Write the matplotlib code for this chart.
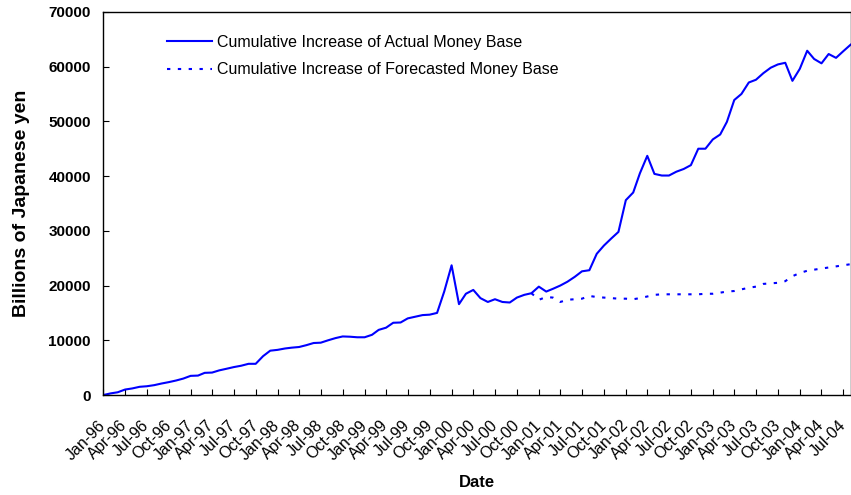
import matplotlib
matplotlib.use("Agg")
import matplotlib.pyplot as plt
import matplotlib.transforms as mtransforms
import numpy as np
import pandas as pd

plt.rcParams['font.family'] = ['Liberation Sans', 'DejaVu Sans']

# monthly data, Jan-96 .. Aug-04 (billions of yen)
months = pd.date_range("1996-01-01", "2004-08-01", freq="MS")

actual = [
    0, 300, 500, 1000, 1200, 1500, 1600, 1800, 2100, 2350, 2650, 3000,
    3500, 3550, 4050, 4100, 4500, 4800, 5100, 5350, 5700, 5700, 7100, 8100,
    8250, 8500, 8650, 8770, 9100, 9500, 9560, 10000, 10400, 10700, 10650, 10550,
    10550, 11000, 11900, 12300, 13200, 13250, 14000, 14300, 14600, 14680, 15000, 18900,
    23700, 16600, 18500, 19200, 17700, 17000, 17500, 17000, 16900, 17800, 18300, 18600,
    19800, 18900, 19400, 20000, 20700, 21600, 22600, 22800, 25800, 27300, 28600, 29800,
    35600, 37000, 40500, 43700, 40400, 40100, 40100, 40800, 41300, 42000, 45000, 45000,
    46700, 47600, 49900, 53900, 55000, 57100, 57600, 58800, 59800, 60400, 60700, 57400,
    59600, 62900, 61400, 60600, 62300, 61600, 62800, 64000,
]

# forecast branches off the actual series in Dec-00
forecast_start = 59
forecast = [
    18600, 17400, 17900, 17800, 17000, 17400, 17500, 17600, 18100, 17900,
    17800, 17700, 17600, 17600, 17500, 17700, 18000, 18300, 18400, 18400,
    18400, 18400, 18400, 18400, 18500, 18500, 18700, 18900, 19000, 19300,
    19600, 19800, 20300, 20400, 20500, 20800, 21700, 22300, 22700, 22900,
    23100, 23300, 23500, 23700, 23900,
]

tick_dates = months[::3]
tick_labels = [d.strftime("%b-%y") for d in tick_dates]
y_ticks = [0, 10000, 20000, 30000, 40000, 50000, 60000, 70000]

fig = plt.figure(figsize=(8.51, 4.95), dpi=100)
ax = fig.add_axes([0.1215, 0.202, 0.878, 0.774])

blue = "#0000FF"
ax.plot(months, actual, color=blue, lw=1.5,
        label="Cumulative Increase of Actual Money Base")
ax.plot(months[forecast_start:forecast_start + len(forecast)], forecast,
        color=blue, lw=1.5, linestyle=(0, (1.6, 3.6)),
        label="Cumulative Increase of Forecasted Money Base")

ax.set_xlim(months[0], months[-1])
ax.set_ylim(0, 70000)
ax.set_yticks(y_ticks)
ax.set_yticklabels([str(v) for v in y_ticks], fontweight="bold", fontsize=11)
ax.set_xticks(tick_dates)
ax.set_xticklabels(tick_labels, rotation=45, ha="right", va="center",
                   rotation_mode="anchor", fontsize=11.5)

# nudge the slanted labels left, like the original
shift = mtransforms.ScaledTranslation(-10 / 100, 0, fig.dpi_scale_trans)
for lbl in ax.get_xticklabels():
    lbl.set_transform(lbl.get_transform() + shift)

for s in ax.spines.values():
    s.set_linewidth(1.0)
ax.tick_params(axis="both", direction="in", length=4, width=0.8)
ax.tick_params(axis="y", pad=9)
ax.tick_params(axis="x", pad=20)

ax.set_ylabel("Billions of Japanese yen", fontweight="bold", fontsize=14, labelpad=13)
ax.set_xlabel("Date", fontweight="bold", fontsize=12, labelpad=9)

ax.legend(loc="upper left", bbox_to_anchor=(0.066, 0.978), frameon=False,
          fontsize=11.5, handlelength=2.8, handletextpad=0.3, labelspacing=0.8)

fig.savefig("out.png", dpi=100)
